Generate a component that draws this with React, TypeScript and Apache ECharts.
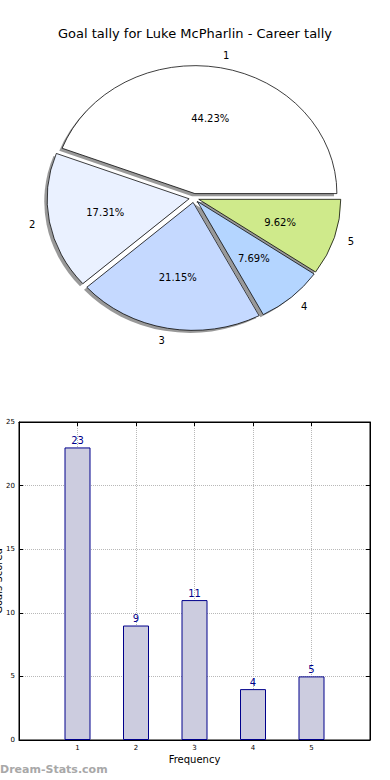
import React, { useEffect, useRef } from "react";
import * as echarts from "echarts";

const titleText = "Goal tally for Luke McPharlin - Career tally";
const categories = ["1", "2", "3", "4", "5"];
const categoryValues = [1, 2, 3, 4, 5];
const tally = [23, 9, 11, 4, 5];
const pieColors = ["#ffffff", "#eaf1ff", "#c5d9ff", "#b4d5ff", "#cfea8b"];
const xAxisName = "Frequency";
const yAxisName = "Goals Scored";
const watermark = "Dream-Stats.com";

const FONT = "DejaVu Sans";
const PIE = { cx: 194, cy: 198, rx: 142, ry: 128, explode: 0.035, shadow: 0.02 };

const total = tally.reduce((a, b) => a + b, 0);
function sliceAngles(i: number) {
  let before = 0;
  for (let j = 0; j < i; j++) before += tally[j];
  const a0 = (before / total) * Math.PI * 2;
  const a1 = ((before + tally[i]) / total) * Math.PI * 2;
  return [a0, a1];
}

function sliceOrigin(i: number) {
  const [a0, a1] = sliceAngles(i);
  const mid = (a0 + a1) / 2;
  return {
    a0,
    a1,
    mid,
    ox: PIE.cx + PIE.explode * PIE.rx * Math.cos(mid),
    oy: PIE.cy - PIE.explode * PIE.ry * Math.sin(mid),
  };
}

export default function App() {
  const ref = useRef<HTMLDivElement>(null);
  useEffect(() => {
    document.body.style.margin = "0";
    const chart = echarts.init(ref.current!, null, { renderer: "svg" });
    const gridLine = { show: true, lineStyle: { color: "#b8b8b8", type: "dotted", width: 1 } };
    const axisLine = { show: true, onZero: false, lineStyle: { color: "#000", width: 1 } };
    const axisTick = { show: true, inside: true, length: 4, lineStyle: { color: "#000" } };
    const option: any = {
      animation: false,
      backgroundColor: "#ffffff",
      textStyle: { fontFamily: FONT },
      title: {
        text: titleText,
        left: "center",
        top: 22,
        textStyle: { fontSize: 13, fontWeight: "normal", fontFamily: FONT, color: "#000" },
      },
      grid: {
        left: 19,
        top: 422,
        width: 351,
        height: 318,
        show: true,
        borderColor: "#000",
        borderWidth: 1,
        backgroundColor: "transparent",
        containLabel: false,
        outerBoundsMode: "none",
      },
      xAxis: [
        {
          type: "value",
          min: 0,
          max: 6,
          interval: 1,
          position: "bottom",
          name: xAxisName,
          nameLocation: "middle",
          nameGap: 14,
          nameMoveOverlap: false,
          nameTextStyle: { fontSize: 10, fontFamily: FONT, color: "#000" },
          axisLine,
          axisTick,
          axisLabel: {
            fontSize: 7,
            fontFamily: FONT,
            color: "#000",
            margin: 4,
            formatter: (v: number) => (categoryValues.indexOf(v) >= 0 ? categories[categoryValues.indexOf(v)] : ""),
          },
          splitLine: gridLine,
        },
        {
          type: "value",
          min: 0,
          max: 6,
          interval: 1,
          position: "top",
          axisLine,
          axisTick,
          axisLabel: { show: false },
          splitLine: { show: false },
        },
      ],
      yAxis: [
        {
          type: "value",
          min: 0,
          max: 25,
          interval: 5,
          position: "left",
          name: yAxisName,
          nameLocation: "middle",
          nameGap: 16,
          nameMoveOverlap: false,
          nameTextStyle: { fontSize: 10, fontFamily: FONT, color: "#000" },
          axisLine,
          axisTick,
          axisLabel: { fontSize: 7, fontFamily: FONT, color: "#000", margin: 4 },
          splitLine: gridLine,
        },
        {
          type: "value",
          min: 0,
          max: 25,
          interval: 5,
          position: "right",
          axisLine,
          axisTick,
          axisLabel: { show: false },
          splitLine: { show: false },
        },
      ],
      graphic: [
        {
          type: "text",
          left: 0,
          top: 764,
          style: { text: watermark, fontSize: 11, fontWeight: "bold", fontFamily: FONT, fill: "#a8a8a8" },
          z: 100,
        },
      ],
      series: [
        {
          type: "bar",
          xAxisIndex: 0,
          yAxisIndex: 0,
          data: tally.map((v, i) => [categoryValues[i], v]),
          barWidth: 26,
          itemStyle: { color: "#ccccdf", borderColor: "#00008b", borderWidth: 1 },
          label: { show: true, position: "top", distance: 2, color: "#00008b", fontSize: 10, fontFamily: FONT },
          silent: true,
          z: 3,
        },
        {
          type: "custom",
          coordinateSystem: "none",
          silent: true,
          z: 1,
          data: tally.map((v, i) => [v, i]),
          renderItem: (params: any, api: any) => {
            const i = params.dataIndex;
            const s = sliceOrigin(i);
            return {
              type: "sector",
              x: s.ox - PIE.shadow * PIE.rx,
              y: s.oy + PIE.shadow * PIE.ry,
              scaleY: PIE.ry / PIE.rx,
              shape: { cx: 0, cy: 0, r: PIE.rx, r0: 0, startAngle: -s.a1, endAngle: -s.a0, clockwise: true },
              style: { fill: "#999999", stroke: "none" },
            };
          },
        },
        {
          type: "custom",
          coordinateSystem: "none",
          silent: true,
          z: 2,
          data: tally.map((v, i) => [v, i]),
          renderItem: (params: any, api: any) => {
            const i = params.dataIndex;
            const v = api.value(0);
            const s = sliceOrigin(i);
            const c = Math.cos(s.mid);
            const sn = Math.sin(s.mid);
            return {
              type: "group",
              children: [
                {
                  type: "sector",
                  x: s.ox,
                  y: s.oy,
                  scaleY: PIE.ry / PIE.rx,
                  shape: { cx: 0, cy: 0, r: PIE.rx, r0: 0, startAngle: -s.a1, endAngle: -s.a0, clockwise: true },
                  style: { fill: pieColors[i], stroke: "#000", lineWidth: 0.8, strokeNoScale: true },
                },
                {
                  type: "text",
                  x: s.ox + 0.6 * PIE.rx * c,
                  y: s.oy - 0.6 * PIE.ry * sn,
                  style: {
                    text: ((v / total) * 100).toFixed(2) + "%",
                    fontSize: 10,
                    fontFamily: FONT,
                    fill: "#000",
                    align: "center",
                    verticalAlign: "middle",
                  },
                },
                {
                  type: "text",
                  x: s.ox + 1.1 * PIE.rx * c,
                  y: s.oy - 1.1 * PIE.ry * sn,
                  style: {
                    text: categories[i],
                    fontSize: 10,
                    fontFamily: FONT,
                    fill: "#000",
                    align: c > 0 ? "left" : "right",
                    verticalAlign: "middle",
                  },
                },
              ],
            };
          },
        },
      ],
    };
    chart.setOption(option);
    return () => chart.dispose();
  }, []);
  return <div ref={ref} style={{ width: 390, height: 780 }} />;
}
